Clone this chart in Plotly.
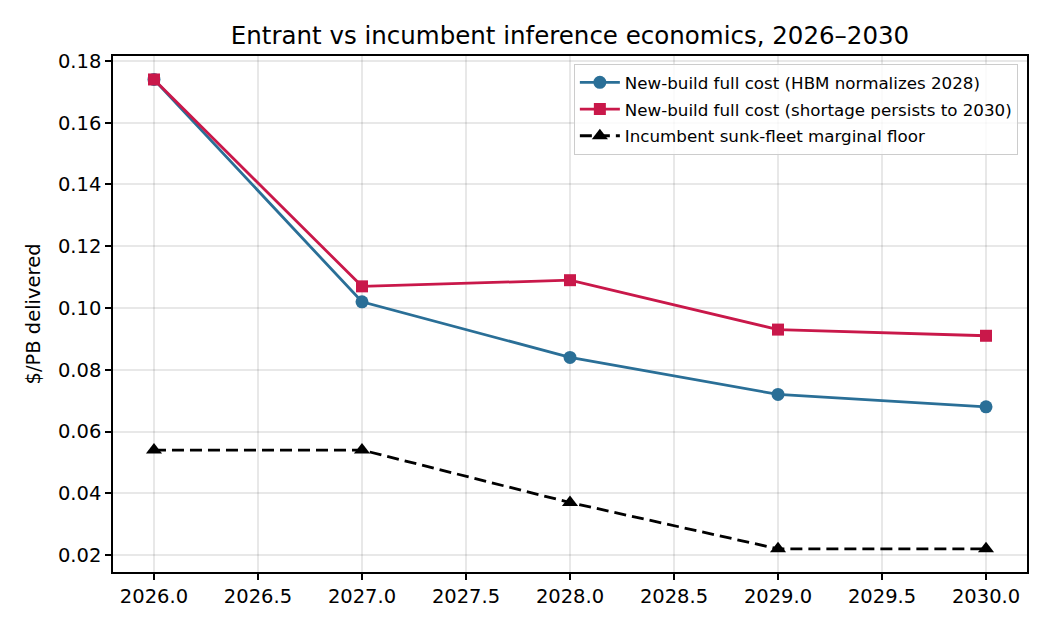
import plotly.graph_objects as go

years = [2026, 2027, 2028, 2029, 2030]
hbm_normalizes = [0.174, 0.102, 0.084, 0.072, 0.068]
shortage_persists = [0.174, 0.107, 0.109, 0.093, 0.091]
incumbent_floor = [0.054, 0.054, 0.037, 0.022, 0.022]

names = [
    "New-build full cost (HBM normalizes 2028)",
    "New-build full cost (shortage persists to 2030)",
    "Incumbent sunk-fleet marginal floor",
]

fig = go.Figure()
fig.add_trace(go.Scatter(x=years, y=hbm_normalizes, name=names[0], mode="lines+markers",
                         legendgroup="a",
                         line=dict(color="#2a6f97", width=2.8),
                         marker=dict(symbol="circle", size=13, color="#2a6f97")))
fig.add_trace(go.Scatter(x=years, y=shortage_persists, name=names[1], mode="lines+markers",
                         legendgroup="b",
                         line=dict(color="#c9184a", width=2.8),
                         marker=dict(symbol="square", size=12, color="#c9184a")))
fig.add_trace(go.Scatter(x=years, y=incumbent_floor, name=names[2], mode="lines+markers",
                         legendgroup="c",
                         line=dict(color="black", width=2.8, dash="12px,6px"),
                         marker=dict(symbol="triangle-up", size=14, color="black")))

fig.update_layout(
    width=1050, height=630,
    margin=dict(l=113, r=23, t=56, b=58),
    paper_bgcolor="white", plot_bgcolor="white",
    font=dict(family="DejaVu Sans", size=20, color="black"),
    title=dict(text="Entrant vs incumbent inference economics, 2026–2030",
               x=0.5, xref="paper", xanchor="center", y=0.943, yanchor="middle",
               font=dict(size=24.5)),
    legend=dict(x=0.990, y=0.9845, xanchor="right", yanchor="top",
                bgcolor="rgba(255,255,255,0.8)", bordercolor="#cccccc", borderwidth=1,
                font=dict(size=16.7), tracegroupgap=2, itemwidth=40),
    showlegend=True,
)
fig.update_xaxes(range=[2025.803, 2030.197], dtick=0.5, tick0=2026, tickformat=".1f",
                 showgrid=True, gridcolor="rgba(0,0,0,0.09)", gridwidth=1.5,
                 showline=True, linecolor="black", linewidth=1.6, mirror=True,
                 ticks="outside", ticklen=6, tickwidth=1.6, tickcolor="black", zeroline=False,
                 tickfont=dict(size=19.5))
fig.update_yaxes(range=[0.0145, 0.1816], dtick=0.02, tick0=0.02, tickformat=".2f",
                 title=dict(text="$/PB delivered", standoff=12, font=dict(size=19.5)),
                 showgrid=True, gridcolor="rgba(0,0,0,0.09)", gridwidth=1.5,
                 showline=True, linecolor="black", linewidth=1.6, mirror=True,
                 ticks="outside", ticklen=6, tickwidth=1.6, tickcolor="black", zeroline=False,
                 tickfont=dict(size=19.5))

fig.write_html("out.html")
